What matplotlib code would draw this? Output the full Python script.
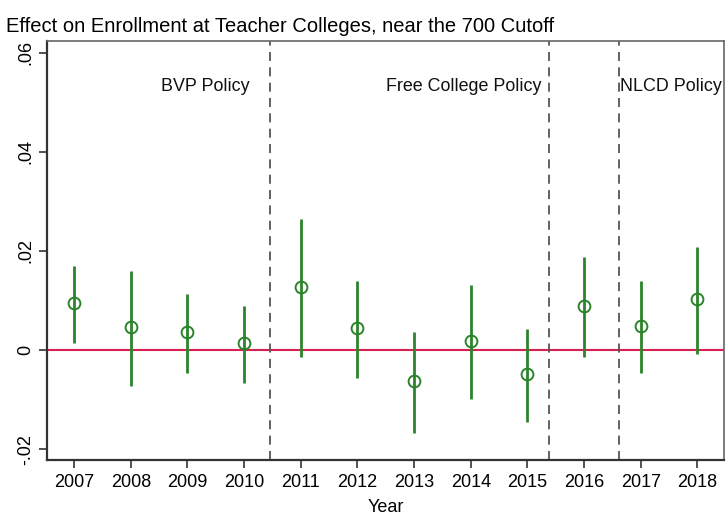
import matplotlib
matplotlib.use("Agg")
import matplotlib.pyplot as plt

plt.rcParams['font.family'] = ['Liberation Sans', 'DejaVu Sans']

years = [2007, 2008, 2009, 2010, 2011, 2012, 2013, 2014, 2015, 2016, 2017, 2018]
estimates = [0.0094, 0.0047, 0.0036, 0.0014, 0.0127, 0.0044, -0.0063, 0.0019, -0.0048, 0.0088, 0.0049, 0.0103]
ci_upper = [0.0170, 0.0160, 0.0114, 0.0089, 0.0264, 0.0140, 0.0036, 0.0131, 0.0043, 0.0188, 0.0140, 0.0209]
ci_lower = [0.0015, -0.0073, -0.0047, -0.0067, -0.0014, -0.0056, -0.0168, -0.0099, -0.0146, -0.0015, -0.0046, -0.0007]

policy_lines = [2010.45, 2015.38, 2016.61]
policy_labels = ["BVP Policy", "Free College Policy", "NLCD Policy"]
label_x = [2010.10, 2015.25, 2016.63]
label_ha = ["right", "right", "left"]
label_y = 0.0533

yticks = [-0.02, 0, 0.02, 0.04, 0.06]
ytick_labels = ["-.02", "0", ".02", ".04", ".06"]

fig = plt.figure(figsize=(7.26, 5.19), dpi=100)
ax = fig.add_axes([47/726, 1-460/519, (724-47)/726, (460-41)/519])

green = "#2b832b"
ax.axhline(0, color="#d6204e", lw=1.5, zorder=1)
for xl in policy_lines:
    ax.axvline(xl, color="#555555", lw=1.3, ls=(0, (5, 3.5)), zorder=1)

ax.vlines(years, ci_lower, ci_upper, color=green, lw=2, zorder=2)
ax.plot(years, estimates, ls="none", marker="o", ms=8.5, mfc="none",
        mec=green, mew=1.4, zorder=3)

for lx, lab, ha in zip(label_x, policy_labels, label_ha):
    ax.text(lx, label_y, lab, ha=ha, va="center", fontsize=12.9, color="#111111")

ax.set_xlim(2006.52, 2018.47)
ax.set_ylim(-0.0222, 0.0624)
ax.set_xticks(years)
ax.set_xticklabels([str(y) for y in years], fontsize=13)
ax.set_yticks(yticks)
ax.set_yticklabels(ytick_labels, fontsize=13, rotation=90, va="center")
ax.tick_params(direction="out", length=6, width=1.2, color="#333333")
ax.tick_params(axis="y", pad=3)
ax.tick_params(axis="x", pad=4)
for side in ["left", "bottom"]:
    ax.spines[side].set_color("#333333")
    ax.spines[side].set_linewidth(1.6)
for side in ["top", "right"]:
    ax.spines[side].set_color("#666666")
    ax.spines[side].set_linewidth(1.2)

ax.set_xlabel("Year", fontsize=13, labelpad=6)
fig.text(6/726, 1-26/519, "Effect on Enrollment at Teacher Colleges, near the 700 Cutoff",
         ha="left", va="center", fontsize=14.5)

fig.savefig("out.png", dpi=100)
